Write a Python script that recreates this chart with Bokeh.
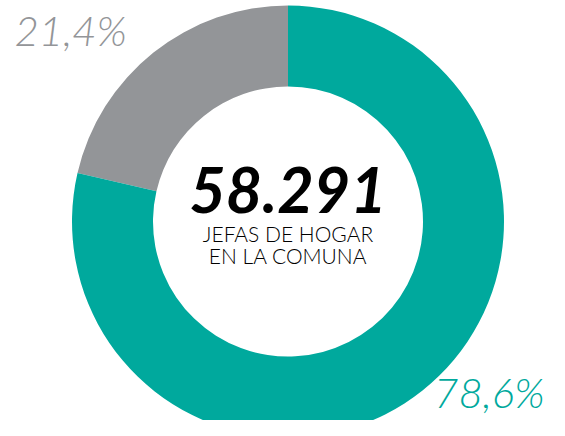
import math
from bokeh.plotting import figure
from bokeh.models import ColumnDataSource, Range1d
from bokeh.core.properties import value
from bokeh.embed import file_html
from bokeh.resources import INLINE

# ---- data ----
categories = ["Jefas de hogar", "Otros"]
shares = [78.6, 21.4]
total_label = "58.291"
subtitle_lines = ["JEFAS DE HOGAR", "EN LA COMUNA"]

# ---- styles ----
TEAL = "#00A99D"
GRAY = "#939598"
colors = [TEAL, GRAY]

W, H = 549, 420
p = figure(width=W, height=H, output_backend="svg", toolbar_location=None,
           x_range=Range1d(0, W), y_range=Range1d(0, H),
           min_border=0, outline_line_color=None)
p.axis.visible = False
p.grid.visible = False
p.background_fill_color = "white"
p.border_fill_color = "white"

def Y(py):  # pixel-from-top -> data y
    return H - py

cx, cy = 287.5, Y(221)
r_out, r_in = 216, 135

# angles: gray slice starts at top going counter-clockwise, teal continues
total = sum(shares)
order = [1, 0]
start = math.pi / 2
starts, ends, cols = [], [], []
for i in order:
    span = shares[i] / total * 2 * math.pi
    starts.append(start)
    ends.append(start + span)
    cols.append(colors[i])
    start += span

src = ColumnDataSource(dict(x=[cx] * 2, y=[cy] * 2, s=starts, e=ends, c=cols))
p.annular_wedge(x="x", y="y", inner_radius=r_in, outer_radius=r_out,
                start_angle="s", end_angle="e", direction="anticlock",
                fill_color="c", line_color=None, source=src)

def fmt(v):
    return f"{v:.1f}".replace(".", ",") + "%"

LIGHT = value("Lato Light")

# percentage labels
p.text(x=[14], y=[Y(29)], text=[fmt(shares[1])], text_color=GRAY,
       text_font=LIGHT, text_font_style="italic", text_font_size="42px",
       text_align="left", text_baseline="middle")
p.text(x=[544], y=[Y(391)], text=[fmt(shares[0])], text_color=TEAL,
       text_font=LIGHT, text_font_style="italic", text_font_size="42px",
       text_align="right", text_baseline="middle")

# centre text
p.text(x=[cx], y=[Y(189)], text=[total_label], text_color="black",
       text_font=value("Lato"), text_font_style="bold italic", text_font_size="63px",
       text_align="center", text_baseline="middle")
p.text(x=[cx, cx], y=[Y(233), Y(255)], text=subtitle_lines, text_color="black",
       text_font=LIGHT, text_font_style="normal", text_font_size="21px",
       text_align="center", text_baseline="middle")

open("out.html", "w").write(file_html(p, INLINE))
